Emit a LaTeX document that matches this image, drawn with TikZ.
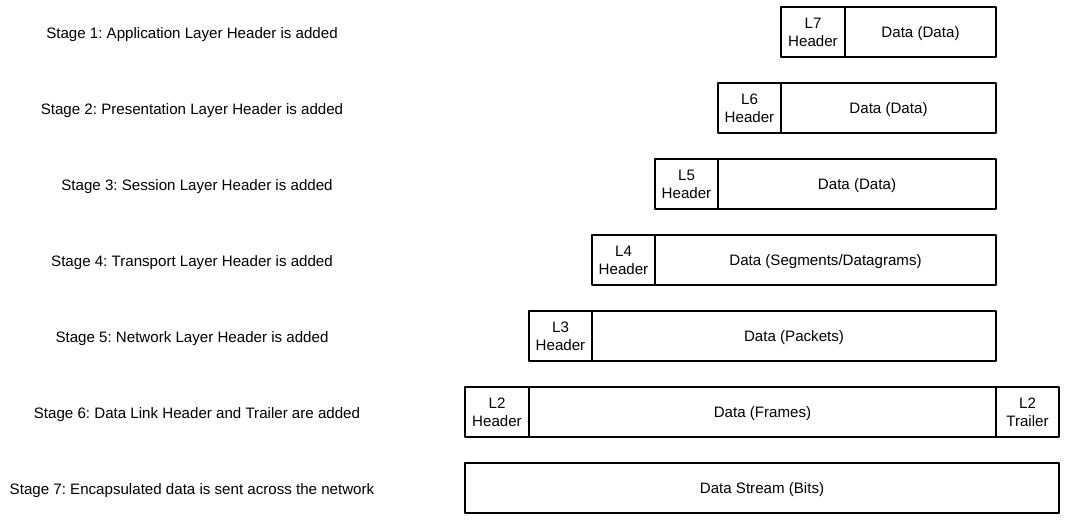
\documentclass[tikz,border=0pt]{standalone}
\usepackage{fontspec}
\setmainfont{Liberation Sans}
\frenchspacing
\begin{document}
\begin{tikzpicture}[x=0.02cm,y=-0.02cm,font=\fontsize{8.6}{10.2}\selectfont,line join=round,
 cell/.style={draw,line width=0.6pt,outer sep=0pt,inner sep=0pt,align=center,anchor=west,text depth=0pt,minimum height=50*0.02cm},
 stagetxt/.style={inner sep=0pt,text depth=0pt}]
 \useasboundingbox (0,0) rectangle (1079,527);
 % stage captions
 \node[stagetxt] (stage1) at (192,33) {Stage 1: Application Layer Header is added};
 \node[stagetxt] (stage2) at (192,109) {Stage 2: Presentation Layer Header is added};
 \node[stagetxt] (stage3) at (197,185) {Stage 3: Session Layer Header is added};
 \node[stagetxt] (stage4) at (192,261) {Stage 4: Transport Layer Header is added};
 \node[stagetxt] (stage5) at (192,337) {Stage 5: Network Layer Header is added};
 \node[stagetxt] (stage6) at (197,413) {Stage 6: Data Link Header and Trailer are added};
 \node[stagetxt] (stage7) at (192,489) {Stage 7: Encapsulated data is sent across the network};
 % headers and data
 \node[cell,minimum width=64*0.02cm] (hdr1) at (781,32) {L7\\Header};
 \node[cell,minimum width=151*0.02cm] (dat1) at (hdr1.east) {Data (Data)};
 \node[cell,minimum width=63*0.02cm] (hdr2) at (718,108) {L6\\Header};
 \node[cell,minimum width=215*0.02cm] (dat2) at (hdr2.east) {Data (Data)};
 \node[cell,minimum width=63*0.02cm] (hdr3) at (655,184) {L5\\Header};
 \node[cell,minimum width=278*0.02cm] (dat3) at (hdr3.east) {Data (Data)};
 \node[cell,minimum width=63*0.02cm] (hdr4) at (592,260) {L4\\Header};
 \node[cell,minimum width=341*0.02cm] (dat4) at (hdr4.east) {Data (Segments/Datagrams)};
 \node[cell,minimum width=63*0.02cm] (hdr5) at (529,336) {L3\\Header};
 \node[cell,minimum width=404*0.02cm] (dat5) at (hdr5.east) {Data (Packets)};
 \node[cell,minimum width=64*0.02cm] (hdr6) at (465,412) {L2\\Header};
 \node[cell,minimum width=467*0.02cm] (dat6) at (hdr6.east) {Data (Frames)};
 \node[cell,minimum width=63*0.02cm] (trl6) at (dat6.east) {L2\\Trailer};
 \node[cell,minimum width=594*0.02cm] (dat7) at (465,488) {Data Stream (Bits)};
\end{tikzpicture}
\end{document}
